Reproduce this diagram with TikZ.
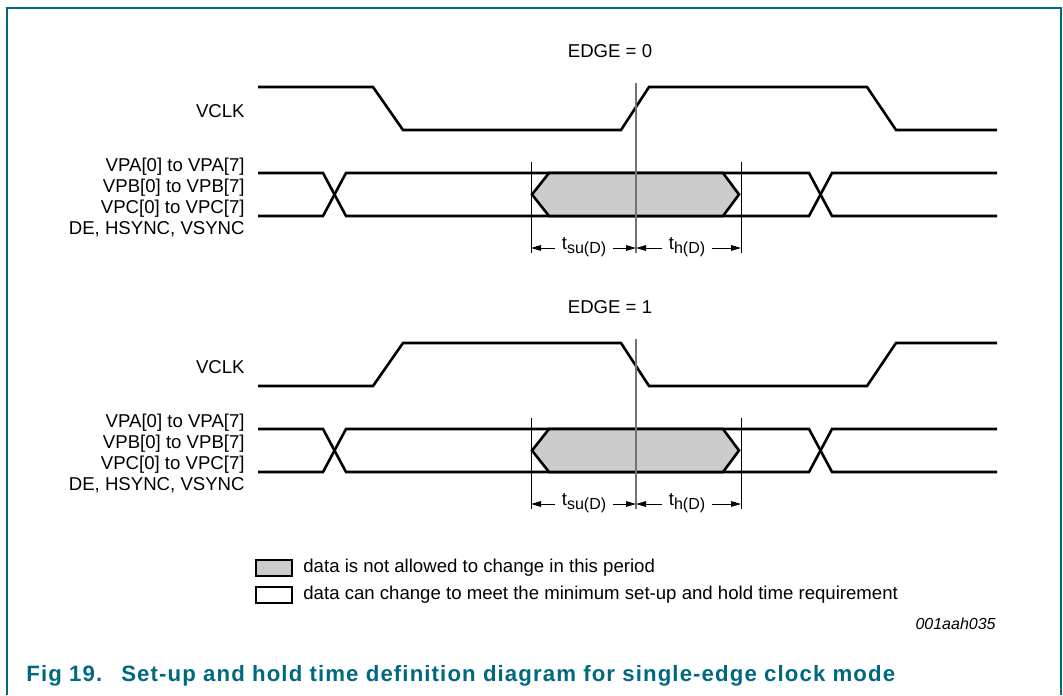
\documentclass[tikz,border=0pt]{standalone}
\usepackage{fontspec}
\setmainfont{Liberation Sans}
\usetikzlibrary{arrows.meta, positioning}
\definecolor{FrameTeal}{RGB}{0, 104, 128}
\definecolor{HoldGray}{RGB}{204, 204, 204}

\newcommand{\tsub}[1]{t\raisebox{-0.45ex}{\fontsize{8}{9}\selectfont #1}}

\tikzset{
  sig/.style={line width=1.3pt, line join=miter},
  dimline/.style={line width=0.5pt},
  refline/.style={line width=0.75pt, black!55},
  dimarrow/.style={line width=0.5pt, -{Triangle[length=5pt, width=2.8pt]}},
  siglabel/.style={anchor=east, inner sep=0pt, align=right,
                   font=\fontsize{9.3}{10.5}\selectfont},
  timelabel/.style={inner sep=3pt, font=\fontsize{9.3}{11}\selectfont},
  legbox/.style={draw, line width=1pt, minimum width=18pt,
                 minimum height=8pt, inner sep=0pt},
  legtext/.style={inner sep=0pt, font=\fontsize{9.3}{11}\selectfont},
}

\begin{document}
\begin{tikzpicture}[x=0.5pt, y=-0.5pt]
  \useasboundingbox (0,0) rectangle (1063,695);

  % Frame, open at the bottom
  \draw[FrameTeal, line width=1pt] (7,695) -- (7,8) -- (1061,8) -- (1061,695);

  % Two panels: EDGE = 0 on top, EDGE = 1 below;
  % \ys/\ye are the clock levels before and after the first edge.
  \foreach \e/\ys/\ye in {0/87/130, 1/130/87} {
    \begin{scope}[shift={(0,\e*256)}]
      \node[legtext] (edge\e) at (610,51) {EDGE = \e};
      \node[siglabel] (clk\e) at (245,111) {VCLK};
      \node[siglabel] (bus\e) at (245,197)
        {VPA[0] to VPA[7]\\VPB[0] to VPB[7]\\VPC[0] to VPC[7]\\DE, HSYNC, VSYNC};

      % Clock
      \draw[sig] (258,\ys) -- (373,\ys) -- (403,\ye) -- (621,\ye)
                 -- (649,\ys) -- (867,\ys) -- (896,\ye) -- (997,\ye);

      % Data bus with two crossovers
      \draw[sig] (258,173) -- (323,173) -- (346,216) -- (809,216)
                 -- (832,173) -- (997,173);
      \draw[sig] (258,216) -- (323,216) -- (346,173) -- (809,173)
                 -- (832,216) -- (997,216);

      % Window where data must stay stable
      \draw[sig, fill=HoldGray] (532,194.5) -- (549,173) -- (723,173)
                 -- (739,194.5) -- (723,216) -- (549,216) -- cycle;

      % Reference lines
      \draw[dimline] (531,162) -- (531,253);
      \draw[dimline] (741,162) -- (741,253);
      \draw[refline] (636,83) -- (636,253);

      % Set-up and hold times
      \coordinate (dl\e) at (531,248);
      \coordinate (dc\e) at (636,248);
      \coordinate (dr\e) at (741,248);
      \node[timelabel] (tsu\e) at (584,247) {\tsub{su(D)}};
      \node[timelabel] (th\e) at (687,247) {\tsub{h(D)}};
      \draw[dimarrow] (tsu\e.west |- dl\e) -- (dl\e);
      \draw[dimarrow] (tsu\e.east |- dc\e) -- (dc\e);
      \draw[dimarrow] (th\e.west |- dc\e) -- (dc\e);
      \draw[dimarrow] (th\e.east |- dr\e) -- (dr\e);
    \end{scope}
  }

  % Legend
  \node[legbox, fill=HoldGray] (keyhold) at (274,567.5) {};
  \node[legbox, fill=white] (keyfree) at (274,594.5) {};
  \node[legtext, right=5pt of keyhold] (keyholdtxt)
    {data is not allowed to change in this period};
  \node[legtext, right=5pt of keyfree] (keyfreetxt)
    {data can change to meet the minimum set-up and hold time requirement};

  \node[anchor=east, inner sep=0pt, font=\fontsize{8}{10}\selectfont\itshape]
    (docid) at (996,624) {001aah035};

  % Caption
  \node[anchor=west, inner sep=0pt, text=FrameTeal,
        font=\fontsize{11.1}{12}\selectfont\bfseries\addfontfeature{LetterSpace=5}]
    (caption) at (26,676)
    {Fig 19.\hspace{9.5pt}Set-up and hold time definition diagram for single-edge clock mode};
\end{tikzpicture}
\end{document}
